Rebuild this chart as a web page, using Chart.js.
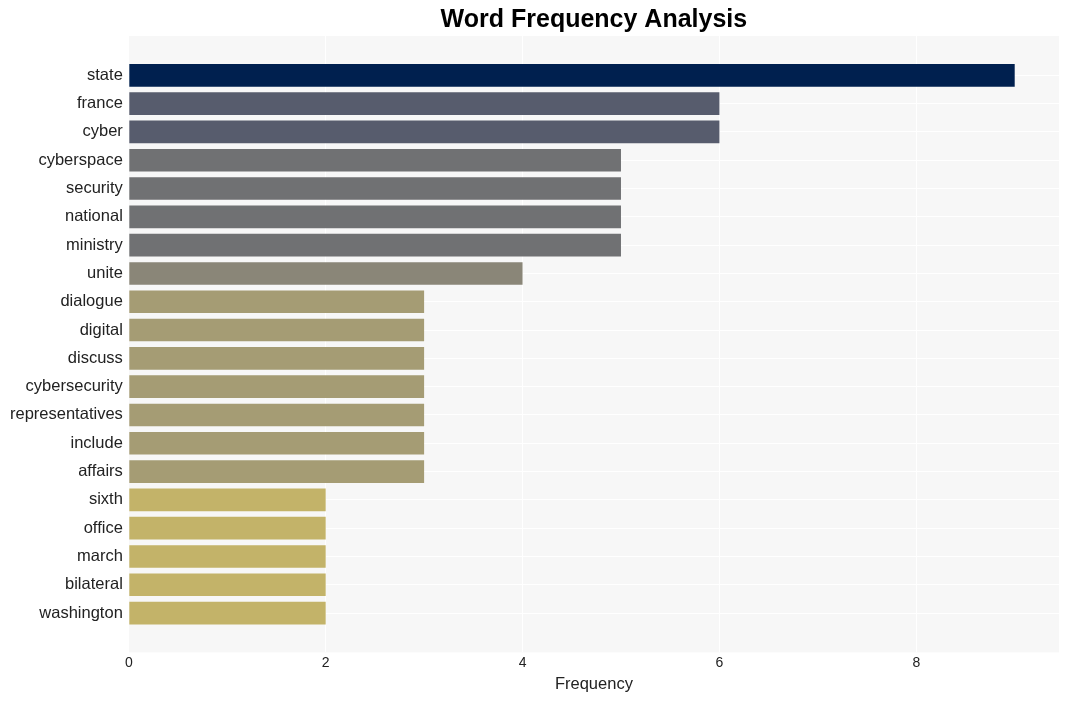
<!DOCTYPE html>
<html>
<head>
<meta charset="utf-8">
<script src="https://cdn.jsdelivr.net/npm/chart.js@4.4.1/dist/chart.umd.min.js"></script>
<style>
html,body{margin:0;padding:0;background:#fff;}
#wrap{width:1068px;height:701px;}
</style>
</head>
<body>
<div id="wrap"><canvas id="c" width="1068" height="701"></canvas></div>
<script>
const words = ["state","france","cyber","cyberspace","security","national","ministry","unite","dialogue","digital","discuss","cybersecurity","representatives","include","affairs","sixth","office","march","bilateral","washington"];
const counts = [9,6,6,5,5,5,5,4,3,3,3,3,3,3,3,2,2,2,2,2];
const barColors = ["#00204f","#575c6d","#575c6d","#707173","#707173","#707173","#707173","#8a8678","#a59c74","#a59c74","#a59c74","#a59c74","#a59c74","#a59c74","#a59c74","#c3b369","#c3b369","#c3b369","#c3b369","#c3b369"];
const xTicks = [0,2,4,6,8];

const bgPlugin = {
  id:'bg',
  beforeDraw(chart){
    const {ctx, chartArea:a} = chart;
    ctx.save();
    ctx.fillStyle = '#f7f7f7';
    ctx.fillRect(a.left, a.top, a.right-a.left, a.bottom-a.top);
    ctx.restore();
  }
};

new Chart(document.getElementById('c'), {
  type:'bar',
  data:{
    datasets:[{
      data: words.map((w,i)=>({x:counts[i], y:i})),
      backgroundColor: barColors,
      borderWidth:0,
      categoryPercentage:0.8,
      barPercentage:1.0
    }]
  },
  options:{
    indexAxis:'y',
    responsive:false,
    animation:false,
    layout:{padding:{left:4,right:9,top:0,bottom:7}},
    plugins:{
      legend:{display:false},
      tooltip:{enabled:false},
      title:{display:true,fullSize:false,text:'Word Frequency Analysis',color:'#000',
        font:{family:'Liberation Sans, Arial, sans-serif',size:25,weight:'bold',lineHeight:1.0},
        padding:{top:8,bottom:3}}
    },
    scales:{
      x:{
        type:'linear',min:0,max:9.45,
        position:'bottom',
        afterBuildTicks(s){ s.ticks = xTicks.map(v=>({value:v})); },
        grid:{color:'#ffffff',lineWidth:1,drawTicks:false},
        border:{display:false},
        ticks:{color:'#222',padding:2,font:{family:'Liberation Sans, Arial, sans-serif',size:14}},
        title:{display:true,text:'Frequency',color:'#222',padding:{top:1,bottom:0},
          font:{family:'Liberation Sans, Arial, sans-serif',size:16.5}}
      },
      y:{
        type:'linear',min:-1.39,max:20.39,reverse:true,offset:false,
        afterBuildTicks(s){ s.ticks = words.map((w,i)=>({value:i})); },
        grid:{color:'#ffffff',lineWidth:1,drawTicks:false,offset:false},
        border:{display:false},
        ticks:{color:'#222',padding:6,autoSkip:false,
          callback:(v)=>words[v],
          font:{family:'Liberation Sans, Arial, sans-serif',size:16.5}}
      }
    }
  },
  plugins:[bgPlugin]
});
</script>
</body>
</html>
